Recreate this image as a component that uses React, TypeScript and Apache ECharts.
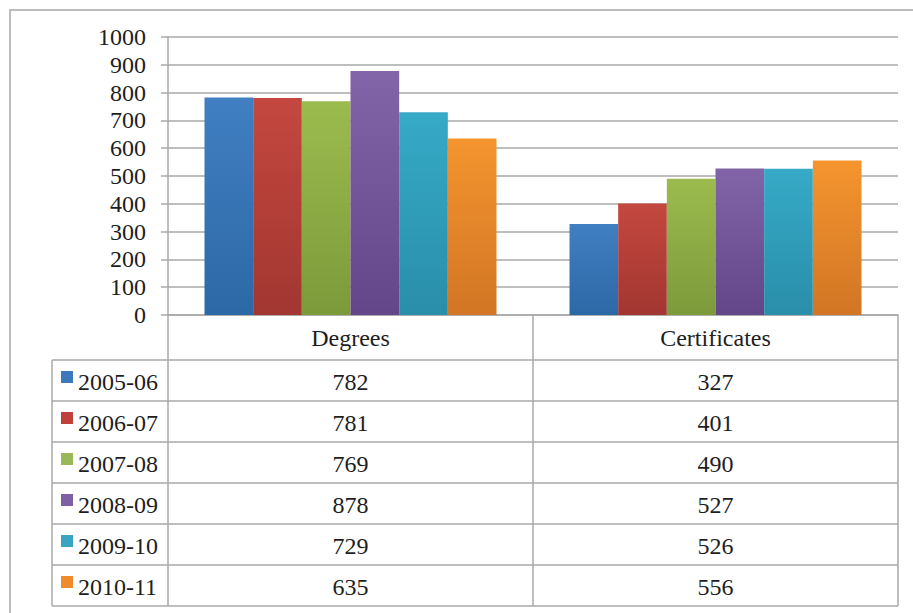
import React, { useEffect, useRef } from "react";
import * as echarts from "echarts";

// Award counts by academic year
const categories = ["Degrees", "Certificates"];
const years = ["2005-06", "2006-07", "2007-08", "2008-09", "2009-10", "2010-11"];
const degrees = [782, 781, 769, 878, 729, 635];
const certificates = [327, 401, 490, 527, 526, 556];

// Value axis
const yMin = 0;
const yMax = 1000;
const yStep = 100;

// Bar fills: [top, bottom] of the vertical gradient, plus the flat key swatch
const barTop = ["#407fc2", "#c4483f", "#9cbb4e", "#8265a8", "#36aac7", "#f4952f"];
const barBottom = ["#2d68a6", "#a23631", "#7c9a3a", "#634689", "#298ea9", "#d27524"];
const swatch = ["#3c78bb", "#c0403a", "#98b957", "#7e61a3", "#3aa4c2", "#ee8b2d"];

const FONT = "Liberation Serif";
const FS = 24;
const TEXT = "#1e1e1e";
const RULE = "#a8a8a8";

const GRID = { left: 168, right: 15, top: 37, bottom: 298 };
const TABLE_LEFT = 52;
const HEADER_H = 45;
const ROW_H = 41;

export default function App() {
  const ref = useRef<HTMLDivElement>(null);

  useEffect(() => {
    if (!ref.current) return;
    const chart = echarts.init(ref.current, undefined, { renderer: "svg" });

    chart.setOption({
      animation: false,
      backgroundColor: "#ffffff",
      grid: { ...GRID, containLabel: false },
      xAxis: {
        type: "category",
        data: categories,
        axisLine: { show: true, lineStyle: { color: RULE, width: 1.5 } },
        axisTick: { show: false },
        axisLabel: {
          fontFamily: FONT,
          fontSize: FS,
          color: TEXT,
          verticalAlign: "middle",
          margin: 23,
        },
      },
      yAxis: {
        type: "value",
        min: yMin,
        max: yMax,
        interval: yStep,
        axisLine: { show: true, lineStyle: { color: RULE, width: 1.5 } },
        axisTick: { show: true, inside: false, length: 7, lineStyle: { color: RULE, width: 1.5 } },
        splitLine: { show: true, lineStyle: { color: RULE, width: 1.5 } },
        axisLabel: {
          fontFamily: FONT,
          fontSize: FS,
          color: TEXT,
          margin: 22,
          formatter: (v: number) => String(v),
        },
      },
      series: years.map((name, i) => ({
        name,
        type: "bar",
        data: [degrees[i], certificates[i]],
        barGap: "0%",
        barCategoryGap: "20%",
        itemStyle: {
          color: new echarts.graphic.LinearGradient(0, 0, 0, 1, [
            { offset: 0, color: barTop[i] },
            { offset: 1, color: barBottom[i] },
          ]),
        },
      })),
    });

    // Data table beneath the plot, aligned to the category axis
    const c0 = chart.convertToPixel({ xAxisIndex: 0 }, 0) as number;
    const c1 = chart.convertToPixel({ xAxisIndex: 0 }, 1) as number;
    const band = c1 - c0;
    const centers = [c0, c1];
    const bounds = [c0 - band / 2, c0 + band / 2, c1 + band / 2];
    const y0 = chart.convertToPixel({ yAxisIndex: 0 }, 0) as number;
    const rowsTop = y0 + HEADER_H;
    const tableBottom = rowsTop + ROW_H * years.length;

    const line = (x1: number, y1: number, x2: number, y2: number) => ({
      type: "line",
      shape: { x1, y1, x2, y2 },
      style: { stroke: RULE, lineWidth: 1.5 },
    });

    const elements: any[] = [];
    // outer chart border
    elements.push({
      type: "rect",
      shape: { x: 10, y: 10, width: 1000, height: 1000 },
      style: { fill: "none", stroke: "#bdbdbd", lineWidth: 2 },
    });
    // column rules
    bounds.forEach((x) => elements.push(line(x, y0, x, tableBottom)));
    elements.push(line(TABLE_LEFT, rowsTop, TABLE_LEFT, tableBottom));
    // row rules
    for (let r = 0; r <= years.length; r++) {
      const y = rowsTop + r * ROW_H;
      elements.push(line(TABLE_LEFT, y, bounds[2], y));
    }
    // row contents
    years.forEach((name, i) => {
      const top = rowsTop + i * ROW_H;
      const mid = top + ROW_H / 2 + 1;
      elements.push({
        type: "rect",
        shape: { x: 61, y: top + 11, width: 12, height: 12 },
        style: { fill: swatch[i] },
      });
      elements.push({
        type: "text",
        x: 78,
        y: mid,
        style: { text: name, fontFamily: FONT, fontSize: FS, fill: TEXT, align: "left", verticalAlign: "middle" },
      });
      [degrees[i], certificates[i]].forEach((v, k) => {
        elements.push({
          type: "text",
          x: centers[k],
          y: mid,
          style: { text: String(v), fontFamily: FONT, fontSize: FS, fill: TEXT, align: "center", verticalAlign: "middle" },
        });
      });
    });

    chart.setOption({ graphic: elements });

    return () => chart.dispose();
  }, []);

  return (
    <div
      ref={ref}
      style={{ position: "fixed", left: 0, top: 0, width: 913, height: 613, background: "#fff" }}
    />
  );
}
